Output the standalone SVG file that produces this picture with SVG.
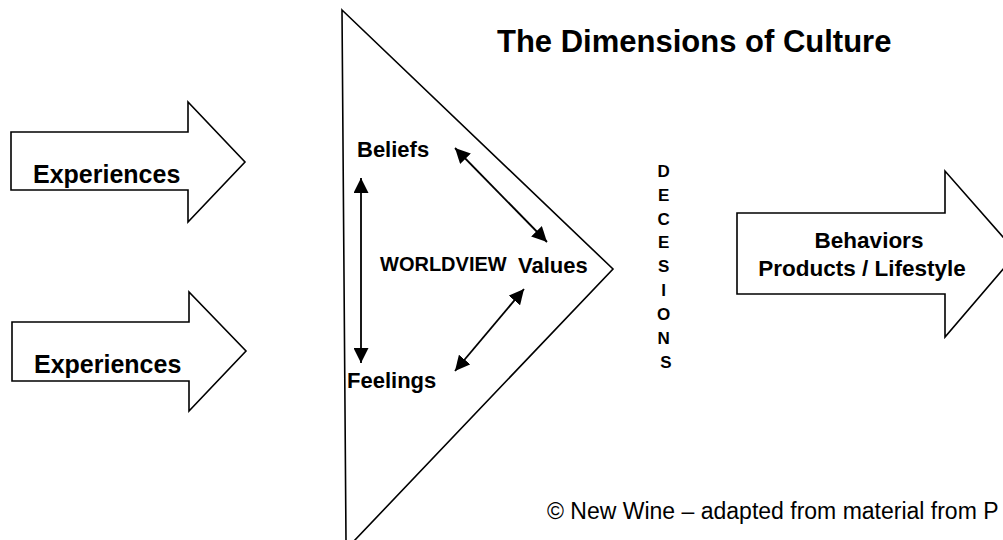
<svg xmlns="http://www.w3.org/2000/svg" width="1003" height="540" viewBox="0 0 1003 540">
<style>
.shape{fill:#fff;stroke:#000;stroke-width:1.6;stroke-linejoin:miter}
.b{font-family:"Liberation Sans",Arial,sans-serif;font-weight:bold;fill:#000}
.r{font-family:"Liberation Sans",Arial,sans-serif;fill:#000}
.conn{stroke:#000;stroke-width:1.8;fill:none;marker-start:url(#ah);marker-end:url(#ah)}
</style>
<defs>
<marker id="ah" markerUnits="userSpaceOnUse" markerWidth="15" markerHeight="15" refX="14" refY="7" orient="auto-start-reverse" viewBox="0 0 14 14">
<path d="M0,0 L14,7 L0,14 z" fill="#000"/>
</marker>
</defs>
<rect width="1003" height="540" fill="#fff"/>
<g id="title"><text class="b" x="497" y="52" font-size="31">The Dimensions of Culture</text></g>
<g id="worldview">
<polygon class="shape" points="342,10 613,269 354,541 346,541"/>
<text class="b" x="380" y="271" font-size="20">WORLDVIEW</text>
</g>
<g id="experiences1">
<polygon class="shape" points="11,132 188,132 188,102 245,162 188,222 188,190 11,190"/>
<text class="b" x="33" y="183" font-size="25">Experiences</text>
</g>
<g id="experiences2">
<polygon class="shape" points="12,322 189,322 189,292 246,351 189,411 189,381 12,381"/>
<text class="b" x="34" y="373" font-size="25">Experiences</text>
</g>
<g id="beliefs"><text class="b" x="357" y="157" font-size="22">Beliefs</text></g>
<g id="values"><text class="b" x="518" y="273" font-size="22">Values</text></g>
<g id="feelings"><text class="b" x="347" y="388" font-size="22">Feelings</text></g>
<g id="decisions">
<text class="b" font-size="17" text-anchor="middle">
<tspan x="666" y="177">D</tspan>
<tspan x="666" y="201">E</tspan>
<tspan x="666" y="225">C</tspan>
<tspan x="666" y="248">E</tspan>
<tspan x="666" y="272">S</tspan>
<tspan x="666" y="296">I</tspan>
<tspan x="666" y="320">O</tspan>
<tspan x="666" y="344">N</tspan>
<tspan x="666" y="368">S</tspan>
</text>
</g>
<g id="behaviors">
<polygon class="shape" points="737,213 945,213 945,171 1017,253 945,337 945,294 737,294"/>
<text class="b" x="869" y="248" font-size="22.5" text-anchor="middle">Behaviors</text>
<text class="b" x="862" y="276" font-size="22.5" text-anchor="middle">Products / Lifestyle</text>
</g>
<g id="copyright"><text class="r" x="547" y="519" font-size="23">© New Wine – adapted from material from P</text></g>
<g id="connectors">
<line class="conn" x1="361" y1="178" x2="361" y2="363"/>
<line class="conn" x1="455" y1="148" x2="547" y2="242"/>
<line class="conn" x1="455" y1="371" x2="524" y2="289"/>
</g>
</svg>
